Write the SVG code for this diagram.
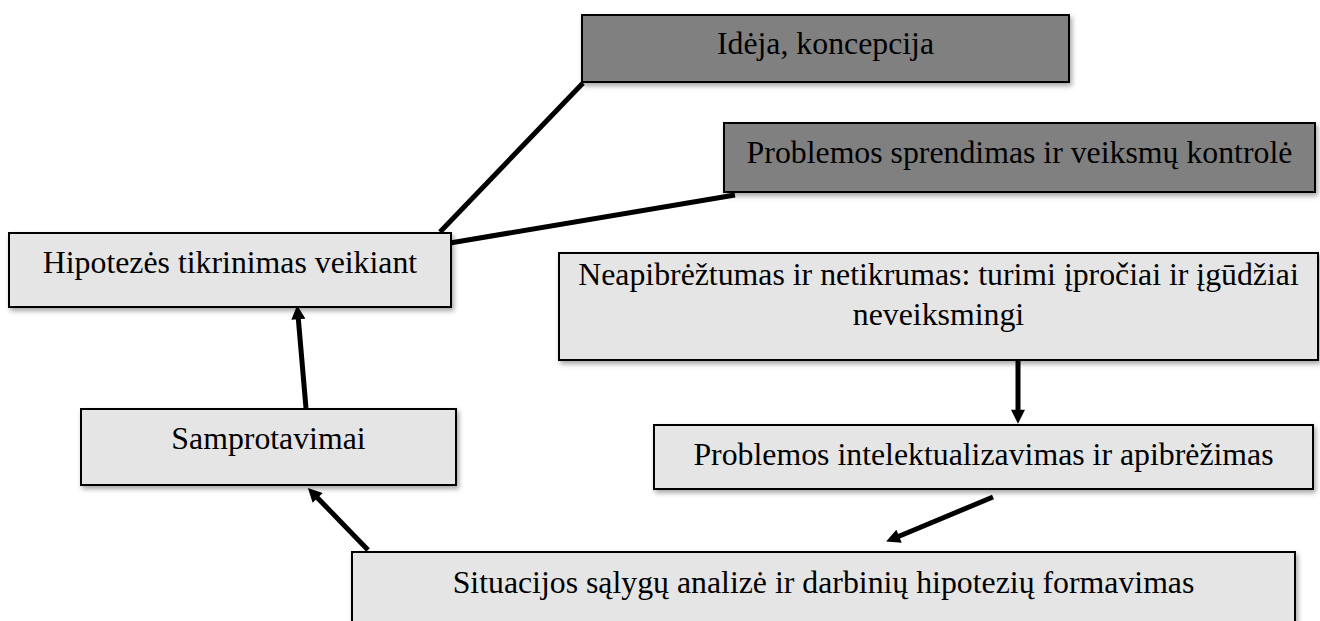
<svg xmlns="http://www.w3.org/2000/svg" width="1320" height="621" viewBox="0 0 1320 621">
<style>
.box{stroke:#000;stroke-width:2;filter:url(#sh)}
.light{fill:#e5e5e5}
.dark{fill:#808080}
.t{font-family:"Liberation Serif","Times New Roman",serif;font-size:31.8px;fill:#000;text-anchor:middle}
.ln{stroke:#000;stroke-width:5;fill:none}
.ar{stroke:#000;stroke-width:5;fill:none;marker-end:url(#ah)}
</style>
<defs>
<filter id="sh" x="-5%" y="-20%" width="115%" height="150%">
<feDropShadow dx="2" dy="3" stdDeviation="2.5" flood-color="#000" flood-opacity="0.35"/>
</filter>
<marker id="ah" viewBox="0 0 10 10" refX="3.75" refY="5" markerWidth="16" markerHeight="14" orient="auto" markerUnits="userSpaceOnUse">
<path d="M0,0 L10,5 L0,10 z" fill="#000"/>
</marker>
</defs>
<g id="connectors">
<line class="ln" x1="440" y1="232" x2="583" y2="83"/>
<line class="ln" x1="450" y1="243" x2="735" y2="195"/>
<line class="ar" x1="306" y1="408" x2="297.9" y2="314"/>
<line class="ar" x1="368" y1="550" x2="314" y2="494.2"/>
<line class="ar" x1="1018" y1="361" x2="1018" y2="415"/>
<line class="ar" x1="993" y1="497" x2="894.2" y2="538.2"/>
</g>
<g id="n-ideja">
<rect class="box dark" x="582" y="15" width="487" height="67"/>
<text class="t" x="825.5" y="54">Idėja, koncepcija</text>
</g>
<g id="n-sprendimas">
<rect class="box dark" x="724" y="123" width="591" height="69"/>
<text class="t" x="1019.5" y="163">Problemos sprendimas ir veiksmų kontrolė</text>
</g>
<g id="n-hipotezes">
<rect class="box light" x="9" y="233" width="442" height="74"/>
<text class="t" x="230" y="273">Hipotezės tikrinimas veikiant</text>
</g>
<g id="n-neapibreztumas">
<rect class="box light" x="559" y="253" width="759" height="107"/>
<text class="t" x="938.5" y="285">Neapibrėžtumas ir netikrumas: turimi įpročiai ir įgūdžiai</text>
<text class="t" x="938.5" y="325">neveiksmingi</text>
</g>
<g id="n-samprotavimai">
<rect class="box light" x="81" y="409" width="375" height="76"/>
<text class="t" x="268.5" y="449">Samprotavimai</text>
</g>
<g id="n-intelektualizavimas">
<rect class="box light" x="654" y="425" width="659" height="64"/>
<text class="t" x="983.5" y="465">Problemos intelektualizavimas ir apibrėžimas</text>
</g>
<g id="n-situacijos">
<rect class="box light" x="352" y="552" width="943" height="80"/>
<text class="t" x="823.5" y="593">Situacijos sąlygų analizė ir darbinių hipotezių formavimas</text>
</g>
</svg>
